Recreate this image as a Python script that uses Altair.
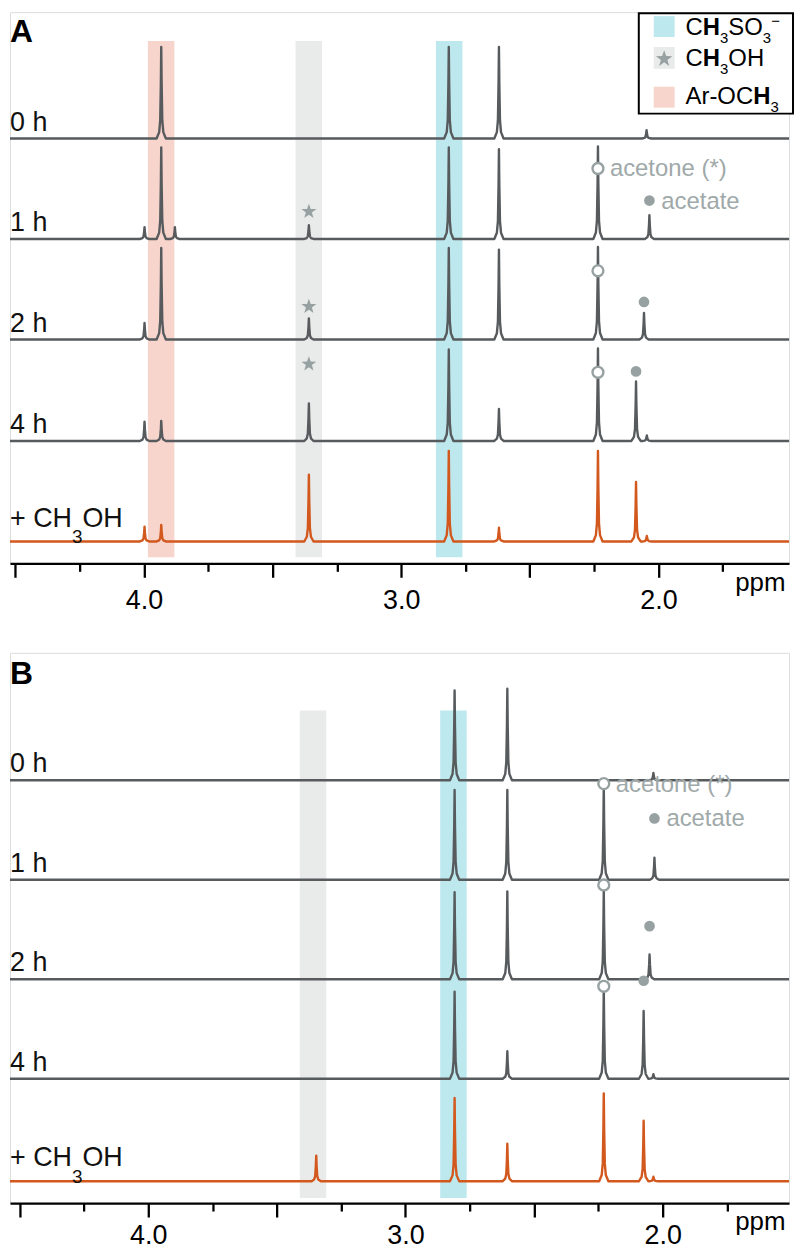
import altair as alt
import pandas as pd

# ------------------------------------------------------------------ data
SPECTRA = ["0 h", "1 h", "2 h", "4 h", "+ CH3OH"]
KINDS = ["time", "time", "time", "time", "methanol"]

# Panel A: peak positions (ppm) and peak heights (% of the strongest peak)
A0_ppm = [3.933, 2.815, 2.620, 2.046]
A0_int = [100, 100, 100, 9]
A1_ppm = [3.998, 3.933, 3.880, 3.359, 2.815, 2.620, 2.235, 2.035]
A1_int = [13, 100, 13, 15, 100, 98, 101, 26]
A2_ppm = [3.998, 3.933, 3.359, 2.815, 2.620, 2.235, 2.056]
A2_int = [18, 100, 23, 100, 98, 101, 29]
A4_ppm = [3.998, 3.933, 3.359, 2.815, 2.620, 2.235, 2.087, 2.045]
A4_int = [21, 22, 41, 100, 35, 101, 65, 6]
AM_ppm = [3.998, 3.933, 3.359, 2.815, 2.620, 2.235, 2.087, 2.045]
AM_int = [16, 18, 73, 99, 15, 99, 65, 6]

# Panel B
B0_ppm = [2.809, 2.604, 2.036]
B0_int = [98, 100, 8]
B1_ppm = [2.809, 2.604, 2.229, 2.032]
B1_int = [98, 98, 102, 24]
B2_ppm = [2.809, 2.604, 2.229, 2.051]
B2_int = [95, 96, 96, 27]
B4_ppm = [2.809, 2.604, 2.229, 2.074, 2.036]
B4_int = [95, 30, 98, 74, 5]
BM_ppm = [3.347, 2.809, 2.604, 2.229, 2.074, 2.036]
BM_int = [28, 91, 41, 96, 66, 5]

# highlighted chemical-shift regions
BAND_NAMES = ["Ar-OCH3", "CH3OH", "CH3SO3-"]
BAND_LO = [3.882, 3.308, 2.762]
BAND_HI = [3.985, 3.411, 2.865]

# markers: spectrum index, ppm, height above that spectrum's baseline (% units)
A_STAR_IDX = [1, 2, 3]
A_STAR_PPM = [3.359, 3.359, 3.359]
A_STAR_H = [30, 36, 84]
A_OPEN_IDX = [1, 2, 3]
A_OPEN_PPM = [2.235, 2.235, 2.235]
A_OPEN_H = [77, 75, 75]
A_FILL_IDX = [1, 2, 3]
A_FILL_PPM = [2.035, 2.056, 2.087]
A_FILL_H = [42, 41, 76]

B_OPEN_IDX = [1, 2, 3]
B_OPEN_PPM = [2.229, 2.229, 2.229]
B_OPEN_H = [105, 103, 101]
B_FILL_IDX = [1, 2, 3]
B_FILL_PPM = [2.032, 2.051, 2.074]
B_FILL_H = [67, 58, 107]

TICKS = [4.5, 4.25, 4.0, 3.75, 3.5, 3.25, 3.0, 2.75, 2.5, 2.25, 2.0, 1.75]

# ------------------------------------------------------------------ layout / style
W = 783
HA, HB = 554, 553
A_DOM = [4.5211, 1.4921]
B_DOM = [4.5377, 1.5087]
A_BASE = [427, 326, 225, 123, 22]
B_BASE = [425, 325, 225, 125, 22]
UNIT = 0.92  # px per % unit

GRAY_LINE = "#575b5d"
ORANGE = "#d2581e"
PINK = "#f7d4cc"
LGRAY = "#e9ebea"
CYAN = "#bde9ee"
MARK_COL = "#97a1a1"
ANN_COL = "#a0a9a9"
FONT = "Liberation Sans"

STAR = ("M0,-1L0.235,-0.324L0.951,-0.309L0.38,0.124L0.588,0.809L0,0.4"
        "L-0.588,0.809L-0.38,0.124L-0.951,-0.309L-0.235,-0.324Z")

# drawing of one peak (offset in ppm, fraction of peak height)
PEAK_D = [0.018, 0.008, 0.004, 0.0015, 0.0, -0.0015, -0.004, -0.008, -0.018]
PEAK_F = [0.0, 0.07, 0.2, 0.6, 1.0, 0.6, 0.2, 0.07, 0.0]

ARIAL = {"C": .722, "H": .722, "S": .667, "O": .778, "A": .667, "r": .333,
         "-": .333, "3": .556, "+": .584, " ": .278, "\u2212": .584}


def tw(s, fs):
    return sum(ARIAL.get(c, .556) for c in s) * fs


ONE = pd.DataFrame({"k": [0]})


def rich(pieces, x0, y0, color="black"):
    marks = []
    x = x0
    for txt, fs, wt, dy in pieces:
        marks.append(
            alt.Chart(ONE).mark_text(text=txt, fontSize=fs, fontWeight=wt, align="left",
                                     baseline="alphabetic", color=color, font=FONT)
            .encode(x=alt.value(x), y=alt.value(y0 + dy))
        )
        x += tw(txt, fs)
    return marks


def x_axis(pad):
    return alt.Axis(
        values=TICKS, title="ppm", titleFontSize=26, titleFontWeight="normal",
        titleColor="black", titleAlign="right", titleX=779, titleY=27,
        titleBaseline="alphabetic", titleAngle=0, titleFont=FONT,
        labelExpr="abs(datum.value - round(datum.value)) < 0.001 ? format(datum.value, '.1f') : ''",
        labelFontSize=27, labelColor="black", labelPadding=pad, labelOverlap=False,
        labelFlush=False, labelFont=FONT,
        tickSize={"condition": {"test": "abs(datum.value*2 - round(datum.value*2)) < 0.001",
                                "value": 14}, "value": 8},
        tickWidth=2.3, tickColor="black", domainWidth=2.3, domainColor="black", grid=False,
    )


def panel(letter, ppms, ints, bases, dom, height, band_idx, band_bot, band_top,
          stars, opens, fills, label_pad, legend):
    xs = alt.Scale(domain=dom, nice=False, zero=False)
    ys = alt.Scale(domain=[0, height], nice=False, zero=False)
    ax = x_axis(label_pad)

    def X(f):
        return alt.X(f, type="quantitative", scale=xs, axis=ax)

    def Y(f):
        return alt.Y(f, type="quantitative", scale=ys, axis=None)

    layers = []
    # bands
    dfb = pd.DataFrame({
        "band": [BAND_NAMES[i] for i in band_idx],
        "lo": [BAND_LO[i] for i in band_idx],
        "hi": [BAND_HI[i] for i in band_idx],
        "y1": [band_bot] * len(band_idx),
        "y2": [band_top] * len(band_idx),
    })
    layers.append(
        alt.Chart(dfb).mark_rect().encode(
            x=X("lo"), x2="hi", y=Y("y1"), y2="y2",
            fill=alt.Fill("band:N", scale=alt.Scale(domain=BAND_NAMES, range=[PINK, LGRAY, CYAN]),
                          legend=None),
        )
    )
    # spectra
    rows = []
    for s, (pp, ii) in enumerate(zip(ppms, ints)):
        pts = [(dom[0], 0.0)]
        for p, h in sorted(zip(pp, ii), reverse=True):
            for d, f in zip(PEAK_D, PEAK_F):
                pts.append((p + d, h * f))
        pts.append((dom[1], 0.0))
        for i, (x, h) in enumerate(pts):
            rows.append({"spectrum": SPECTRA[s], "kind": KINDS[s], "i": i, "ppm": x,
                         "y": bases[s] + h * UNIT})
    dfl = pd.DataFrame(rows)
    layers.append(
        alt.Chart(dfl).mark_line(strokeWidth=2.4, strokeJoin="round").encode(
            x=X("ppm"), y=Y("y"), detail="spectrum:N", order="i:Q",
            stroke=alt.Stroke("kind:N", scale=alt.Scale(domain=["time", "methanol"],
                                                        range=[GRAY_LINE, ORANGE]), legend=None),
        )
    )

    def mdf(m):
        idx, pp, hh = m
        return pd.DataFrame({"ppm": pp, "y": [bases[i] + h * UNIT for i, h in zip(idx, hh)]})

    if stars:
        layers.append(alt.Chart(mdf(stars)).mark_point(shape=STAR, size=250, filled=True,
                                                       color=MARK_COL, opacity=1)
                      .encode(x=X("ppm"), y=Y("y")))
    dfo = mdf(opens)
    dff = mdf(fills)
    layers.append(alt.Chart(dfo).mark_point(shape="circle", size=120, filled=True, fill="white",
                                            stroke=MARK_COL, strokeWidth=2.4, opacity=1)
                  .encode(x=X("ppm"), y=Y("y")))
    layers.append(alt.Chart(dff).mark_circle(size=115, color=MARK_COL, opacity=1)
                  .encode(x=X("ppm"), y=Y("y")))
    layers.append(alt.Chart(dfo.iloc[:1]).mark_text(text="acetone (*)", align="left", baseline="middle",
                                                    dx=12, dy=1, fontSize=24, color=ANN_COL, font=FONT)
                  .encode(x=X("ppm"), y=Y("y")))
    layers.append(alt.Chart(dff.iloc[:1]).mark_text(text="acetate", align="left", baseline="middle",
                                                    dx=12, dy=1, fontSize=24, color=ANN_COL, font=FONT)
                  .encode(x=X("ppm"), y=Y("y")))
    # spectrum labels
    dft = pd.DataFrame({"lab": SPECTRA[:4], "y": [b + 8 for b in bases[:4]]})
    layers.append(alt.Chart(dft).mark_text(align="left", baseline="alphabetic", fontSize=27,
                                           color="#111111", font=FONT)
                  .encode(x=alt.value(0), y=Y("y"), text="lab:N"))
    ym = height - (bases[4] + 15)
    layers += rich([("+ CH", 27, "normal", 0), ("3", 19, "normal", 17), ("OH", 27, "normal", 0)],
                   0, ym, "#111111")
    # panel letter
    layers.append(alt.Chart(ONE).mark_text(text=letter, fontSize=32, fontWeight="bold", align="left",
                                           baseline="alphabetic", color="black", font=FONT)
                  .encode(x=alt.value(0), y=alt.value(height - (bases[0] + 97))))
    if legend:
        layers.append(alt.Chart(ONE).mark_rect(fill="white", stroke="black", strokeWidth=2)
                      .encode(x=alt.value(632), x2=alt.value(787), y=alt.value(1), y2=alt.value(102)))
        for (y1, y2), col in zip([(4, 25), (35, 57), (75, 96)], [CYAN, LGRAY, PINK]):
            layers.append(alt.Chart(ONE).mark_rect(fill=col)
                          .encode(x=alt.value(647), x2=alt.value(668), y=alt.value(y1), y2=alt.value(y2)))
        layers.append(alt.Chart(ONE).mark_point(shape=STAR, size=300, filled=True, color=MARK_COL,
                                                opacity=1)
                      .encode(x=alt.value(657.5), y=alt.value(47)))
        layers += rich([("C", 24, "normal", 0), ("H", 24, "bold", 0), ("3", 15, "normal", 8),
                        ("SO", 24, "normal", 0), ("3", 15, "normal", 8), ("\u2212", 15, "normal", -9)],
                       679, 23)
        layers += rich([("C", 24, "normal", 0), ("H", 24, "bold", 0), ("3", 15, "normal", 8),
                        ("OH", 24, "normal", 0)], 679, 54)
        layers += rich([("Ar-OC", 24, "normal", 0), ("H", 24, "bold", 0), ("3", 15, "normal", 8)],
                       679, 92)
    return alt.layer(*layers).properties(width=W, height=height)


panelA = panel("A", [A0_ppm, A1_ppm, A2_ppm, A4_ppm, AM_ppm],
               [A0_int, A1_int, A2_int, A4_int, AM_int], A_BASE, A_DOM, HA,
               [0, 1, 2], 6, 525,
               (A_STAR_IDX, A_STAR_PPM, A_STAR_H),
               (A_OPEN_IDX, A_OPEN_PPM, A_OPEN_H),
               (A_FILL_IDX, A_FILL_PPM, A_FILL_H), 10, True)

panelB = panel("B", [B0_ppm, B1_ppm, B2_ppm, B4_ppm, BM_ppm],
               [B0_int, B1_int, B2_int, B4_int, BM_int], B_BASE, B_DOM, HB,
               [1, 2], 5, 495, None,
               (B_OPEN_IDX, B_OPEN_PPM, B_OPEN_H),
               (B_FILL_IDX, B_FILL_PPM, B_FILL_H), 6, False)

chart = (
    alt.vconcat(panelA, panelB, spacing=38)
    .properties(padding={"left": 0, "top": 0, "right": 0, "bottom": 0})
    .configure_view(stroke=None)
    .configure(font=FONT)
)

chart.save("out.html", embed_options={"renderer": "svg", "actions": False})
